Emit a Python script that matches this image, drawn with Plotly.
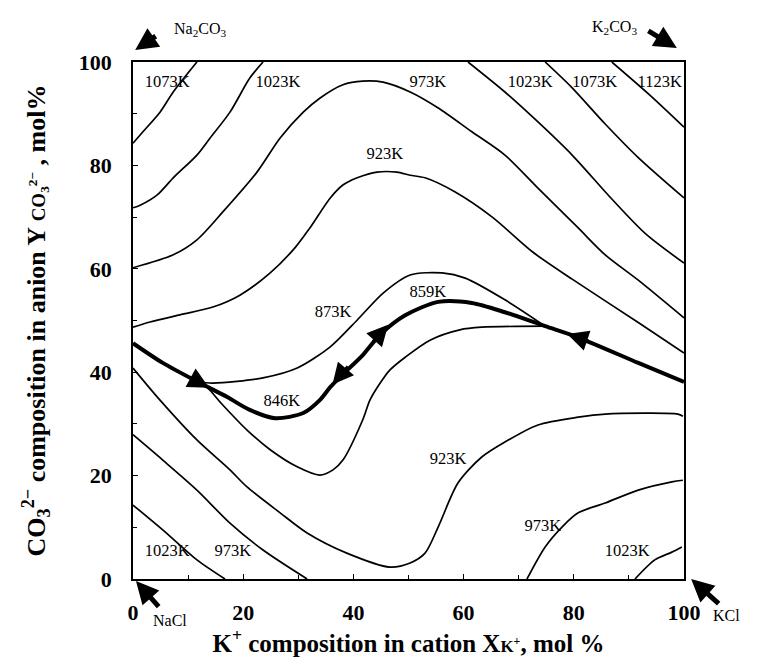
import plotly.graph_objects as go

# ---------------- data ----------------
# isotherms, carbonate-rich side (upper)
iso1073_left_x = [11.6, 7.3, 4.9, 1.8, 0]
iso1073_left_y = [100, 94.2, 90.3, 86.5, 84.3]

iso1023_left_x = [23.6, 21.2, 17.6, 14.0, 11.6, 7.3, 4.4, 1.3, 0]
iso1023_left_y = [100, 96.9, 90.3, 85.3, 82.0, 77.6, 74.3, 72.3, 71.8]

iso973_upper_x = [0, 7.3, 11.6, 16.3, 22.5, 26.7, 30.9, 33.9, 38.1, 41.7, 45.4, 50.3,
                  55.4, 61.5, 67.5, 73.5, 80.8, 85.7, 91.7, 100]
iso973_upper_y = [60.2, 62.7, 65.6, 71.0, 78.7, 85.3, 90.3, 93.0, 95.6, 96.3, 96.1, 94.2,
                  91.1, 86.5, 82.0, 75.6, 67.9, 62.7, 57.8, 50.5]

iso923_upper_x = [0, 3.1, 8.5, 14.5, 19.4, 24.9, 29.5, 32.1, 35.8, 38.1, 40.7, 44.3, 47.9,
                  50.3, 53.0, 58.4, 65.2, 72.6, 79.7, 91.7, 100]
iso923_upper_y = [48.7, 49.7, 51.1, 52.6, 54.9, 59.2, 64.2, 67.9, 73.7, 76.2, 77.6, 78.7, 78.7,
                  78.1, 77.6, 74.9, 70.0, 63.2, 58.0, 49.6, 43.7]

iso1023_right_x = [60.8, 67.5, 73.5, 79.7, 86.9, 93.0, 100]
iso1023_right_y = [100, 94.2, 88.4, 82.0, 73.5, 66.8, 61.1]

iso1073_right_x = [74.8, 79.7, 85.7, 91.7, 100]
iso1073_right_y = [100, 95.0, 88.0, 81.5, 73.7]

iso1123_x = [86.9, 93.8, 100]
iso1123_y = [100, 93.6, 87.4]

iso873_upper_x = [11.8, 14.5, 23.6, 29.8, 35.8, 40.7, 45.4, 50.3, 56.1, 60.3, 67.5, 74.8]
iso873_upper_y = [38.1, 37.9, 38.9, 40.8, 44.9, 50.1, 55.3, 58.8, 59.2, 58.2, 54.0, 48.9]

# isotherms, chloride-rich side (lower)
iso873_lower_x = [11.8, 13.4, 16.0, 20.7, 24.9, 29.8, 33.9, 36.3, 38.1, 41.7, 43.0, 44.8,
                  46.6, 49.4, 53.9, 59.3, 63.3, 74.8]
iso873_lower_y = [38.1, 37.1, 34.0, 28.8, 25.0, 21.7, 20.1, 21.1, 23.0, 30.8, 34.6, 37.8,
                  40.4, 42.9, 46.2, 48.2, 48.7, 48.9]

iso923_lower_x = [0, 4.9, 11.6, 17.6, 20.7, 26.7, 31.6, 38.8, 46.6, 50.3, 53.0, 55.4, 59.0,
                  63.3, 67.5, 73.5, 80.8, 85.7, 98.9, 99.8]
iso923_lower_y = [40.8, 34.6, 26.9, 21.1, 17.8, 12.8, 8.9, 5.0, 2.3, 3.1, 5.0, 10.1, 18.6,
                  23.6, 26.5, 29.8, 31.3, 31.9, 31.9, 31.5]

iso973_lower_left_x = [0, 5.4, 11.6, 17.6, 23.6, 31.6]
iso973_lower_left_y = [27.9, 23.0, 17.2, 10.8, 5.6, 0]

iso1023_lower_left_x = [0, 5.4, 11.6, 16.7]
iso1023_lower_left_y = [14.3, 9.5, 3.7, 0]

iso973_lower_right_x = [71.5, 74.8, 77.9, 80.8, 85.7, 91.7, 97.8, 99.8]
iso973_lower_right_y = [0, 6.2, 10.1, 12.8, 14.7, 17.2, 18.8, 19.1]

iso1023_lower_right_x = [91.1, 94.7, 97.8, 99.6]
iso1023_lower_right_y = [0, 3.7, 5.2, 6.2]

# eutectic valley (thick line)
valley_x = [0, 5.4, 11.8, 17.1, 21.2, 25.8, 30.9, 33.9, 35.8, 37.6, 41.7, 44.8, 49.4,
            55.4, 61.5, 67.5, 74.8, 80.6, 91.7, 100]
valley_y = [45.6, 41.8, 38.1, 35.2, 32.7, 31.1, 32.1, 34.6, 37.1, 39.1, 43.3, 47.2, 51.0,
            53.6, 53.4, 51.6, 48.9, 46.8, 41.8, 38.1]

# arrowheads along the valley (head, tail)
arrow_head_x = [13.8, 36.2, 46.3, 78.8]
arrow_head_y = [37.0, 37.6, 49.2, 47.4]
arrow_tail_x = [10.0, 39.2, 43.3, 83.0]
arrow_tail_y = [39.2, 41.4, 45.6, 45.9]

# isotherm labels
label_text = ["1073K", "1023K", "973K", "1023K", "1073K", "1123K", "923K", "873K", "859K",
              "846K", "923K", "973K", "1023K", "1023K", "973K"]
label_x = [6.2, 26.3, 53.5, 72.1, 83.8, 95.6, 45.7, 36.3, 53.5, 27.0, 57.2, 74.4, 89.7, 6.2, 18.1]
label_y = [95.9, 95.9, 95.9, 95.9, 95.9, 95.9, 82.0, 51.5, 55.3, 34.2, 23.0, 10.1, 5.2, 5.2, 5.2]

x_ticks = [0, 20, 40, 60, 80, 100]
y_ticks = [0, 20, 40, 60, 80, 100]

# ---------------- figure ----------------
SERIF = "Liberation Serif, Times New Roman, serif"
fig = go.Figure()

thin = [
    (iso1073_left_x, iso1073_left_y), (iso1023_left_x, iso1023_left_y),
    (iso973_upper_x, iso973_upper_y), (iso923_upper_x, iso923_upper_y),
    (iso1023_right_x, iso1023_right_y), (iso1073_right_x, iso1073_right_y),
    (iso1123_x, iso1123_y), (iso873_upper_x, iso873_upper_y),
    (iso873_lower_x, iso873_lower_y), (iso923_lower_x, iso923_lower_y),
    (iso973_lower_left_x, iso973_lower_left_y), (iso1023_lower_left_x, iso1023_lower_left_y),
    (iso973_lower_right_x, iso973_lower_right_y), (iso1023_lower_right_x, iso1023_lower_right_y),
]
for xs, ys in thin:
    fig.add_trace(go.Scatter(x=xs, y=ys, mode="lines",
                             line=dict(color="black", width=1.7, shape="spline", smoothing=0.8),
                             showlegend=False, hoverinfo="skip"))

fig.add_trace(go.Scatter(x=valley_x, y=valley_y, mode="lines",
                         line=dict(color="black", width=4, shape="spline", smoothing=0.8),
                         showlegend=False, hoverinfo="skip"))

fig.add_trace(go.Scatter(x=label_x, y=label_y, mode="text", text=label_text,
                         textfont=dict(family=SERIF, size=16.5, color="black"),
                         showlegend=False, hoverinfo="skip"))

for hx, hy, tx, ty in zip(arrow_head_x, arrow_head_y, arrow_tail_x, arrow_tail_y):
    fig.add_annotation(x=hx, y=hy, ax=tx, ay=ty, xref="x", yref="y", axref="x", ayref="y",
                       showarrow=True, arrowhead=2, arrowsize=1.5, arrowwidth=2.8,
                       arrowcolor="black", text="")

# corner component labels with arrows
corner = [
    ("Na<sub>2</sub>CO<sub>3</sub>", 0.1216, 1.062, 0.004, 1.023, 22, -15),
    ("K<sub>2</sub>CO<sub>3</sub>", 0.873, 1.066, 0.987, 1.027, -30, -18),
    ("NaCl", 0.067, -0.081, 0.0054, -0.004, 24, 27),
    ("KCl", 1.078, -0.070, 1.013, 0.0, 29, 26),
]
for txt, lx, ly, hx, hy, dx, dy in corner:
    fig.add_annotation(x=lx, y=ly, xref="paper", yref="paper", text=txt, showarrow=False,
                       xanchor="center", yanchor="middle",
                       font=dict(family=SERIF, size=16, color="black"))
    fig.add_annotation(x=hx, y=hy, xref="paper", yref="paper", ax=dx, ay=dy, text="",
                       showarrow=True, arrowhead=2, arrowsize=0.9, arrowwidth=5,
                       arrowcolor="black")

axis_common = dict(range=[0, 100], showgrid=False, zeroline=False, showline=True,
                   linecolor="black", linewidth=1.5, mirror=True, ticks="inside",
                   ticklen=5, tickcolor="black",
                   tickfont=dict(family=SERIF, size=22, color="black", weight="bold"),
                   minor=dict(ticks="inside", dtick=10, ticklen=4, tickcolor="black"))

fig.update_xaxes(**axis_common, tickvals=x_ticks, ticklabelstandoff=13,
                 title=dict(text="K<sup>+</sup> composition in cation X<span style='font-size:17px'>K<sup>+</sup></span>, mol %",
                            font=dict(family=SERIF, size=25, color="black", weight="bold"),
                            standoff=4))
fig.update_yaxes(**axis_common, tickvals=y_ticks, ticklabelstandoff=15,
                 title=dict(text="CO<sub>3</sub><sup>2\u2212</sup> composition in anion Y <span style='font-size:19px'>CO<sub>3</sub><sup>2\u2212</sup></span> , mol%",
                            font=dict(family=SERIF, size=26, color="black", weight="bold"),
                            standoff=26))

# page body has an 8px margin, so the figure is shifted by 8px; compensate here
fig.update_layout(width=751, height=656, plot_bgcolor="white", paper_bgcolor="white",
                  margin=dict(l=125, r=75, t=54, b=85), showlegend=False)

fig.write_html("out.html")
